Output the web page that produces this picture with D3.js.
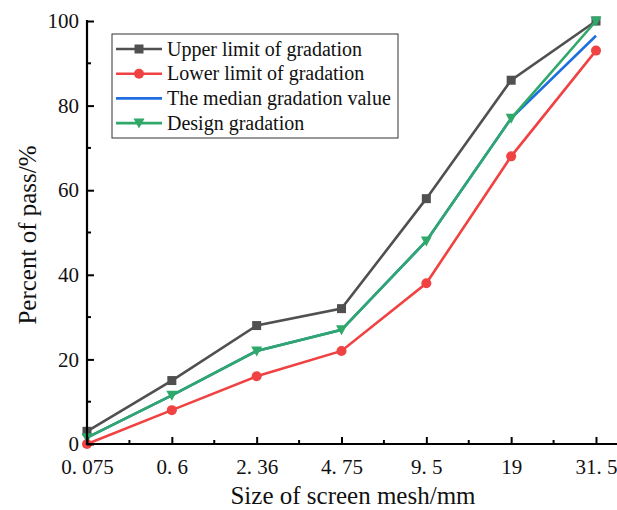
<!DOCTYPE html>
<html>
<head>
<meta charset="utf-8">
<script src="https://cdn.jsdelivr.net/npm/d3@7"></script>
<style>
  body { margin: 0; background: #fff; }
  text { font-family: "Liberation Serif", "Times New Roman", serif; fill: #111; }
</style>
</head>
<body>
<svg id="chart"></svg>
<script>
// sieve sizes (x categories) and their tick text
const sizes = ["0.075", "0.6", "2.36", "4.75", "9.5", "19", "31.5"];
const tickLabels = ["0. 075", "0. 6", "2. 36", "4. 75", "9. 5", "19", "31. 5"];
const yTicks = [0, 20, 40, 60, 80, 100];

// percent passing
const upper = [3, 15, 28, 32, 58, 86, 100];
const lower = [0, 8, 16, 22, 38, 68, 93];
const median = [1.5, 11.5, 22, 27, 48, 77, 96.5];
const design = [1.5, 11.5, 22, 27, 48, 77, 100];

const seriesNames = ["Upper limit of gradation", "Lower limit of gradation", "The median gradation value", "Design gradation"];
const seriesColors = ["#505050", "#f04242", "#1f6fe0", "#2fa86a"];
const seriesMarkers = ["square", "circle", "none", "triangle"];

const width = 617, height = 510;
const svg = d3.select("#chart").attr("width", width).attr("height", height);

const xScale = d3.scalePoint().domain(sizes).range([87, 596]);
const yScale = d3.scaleLinear().domain([0, 100]).range([444, 21]);

// series drawn in order, design last so it sits on top
const series = [upper, lower, median, design].map((vals, i) => ({
    name: seriesNames[i],
    color: seriesColors[i],
    marker: seriesMarkers[i],
    points: sizes.map((s, j) => ({ x: s, y: vals[j] }))
}));

const line = d3.line().x(d => xScale(d.x)).y(d => yScale(d.y));

function drawMarker(g, type, color) {
    if (type === "square") {
        g.append("rect").attr("x", -4.5).attr("y", -4.5).attr("width", 9).attr("height", 9).attr("fill", color);
    } else if (type === "circle") {
        g.append("circle").attr("r", 5).attr("fill", color);
    } else if (type === "triangle") {
        g.append("path").attr("d", "M-5.5,-4.5L5.5,-4.5L0,5.5Z").attr("fill", color);
    }
}

const plot = svg.append("g");
series.forEach(s => {
    plot.append("path")
        .datum(s.points)
        .attr("d", line)
        .attr("fill", "none")
        .attr("stroke", s.color)
        .attr("stroke-width", 2.6);
    s.points.forEach(p => {
        const g = plot.append("g").attr("transform", "translate(" + xScale(p.x) + "," + yScale(p.y) + ")");
        drawMarker(g, s.marker, s.color);
    });
});

// x axis: major ticks inward, minor ticks halfway between
const xAxis = svg.append("g")
    .attr("transform", "translate(0,444)")
    .call(d3.axisBottom(xScale).tickSizeInner(-7).tickSizeOuter(0).tickPadding(15)
        .tickFormat((d, i) => tickLabels[i]));
xAxis.select(".domain").remove();
xAxis.selectAll(".tick line").attr("stroke", "#000").attr("stroke-width", 2);
xAxis.selectAll(".tick text").attr("font-size", 21).attr("fill", "#111")
    .attr("font-family", "'Liberation Serif', serif");

const step = xScale.step();
const xMinor = sizes.slice(0, -1).map(s => xScale(s) + step / 2);
svg.append("g").selectAll("line").data(xMinor).enter().append("line")
    .attr("x1", d => d).attr("x2", d => d)
    .attr("y1", 444).attr("y2", 440)
    .attr("stroke", "#000").attr("stroke-width", 2);

svg.append("line")
    .attr("x1", 86).attr("x2", 617).attr("y1", 444).attr("y2", 444)
    .attr("stroke", "#000").attr("stroke-width", 2.2);

// y axis
const yAxis = svg.append("g")
    .attr("transform", "translate(87,0)")
    .call(d3.axisLeft(yScale).tickValues(yTicks).tickSizeInner(-7).tickSizeOuter(0).tickPadding(8));
yAxis.select(".domain").remove();
yAxis.selectAll(".tick line").attr("stroke", "#000").attr("stroke-width", 2);
yAxis.selectAll(".tick text").attr("font-size", 21).attr("fill", "#111")
    .attr("font-family", "'Liberation Serif', serif");

const yMinor = d3.range(10, 100, 20);
svg.append("g").selectAll("line").data(yMinor).enter().append("line")
    .attr("x1", 87).attr("x2", 91)
    .attr("y1", d => yScale(d)).attr("y2", d => yScale(d))
    .attr("stroke", "#000").attr("stroke-width", 2);

svg.append("line")
    .attr("x1", 87).attr("x2", 87).attr("y1", 20).attr("y2", 445)
    .attr("stroke", "#000").attr("stroke-width", 2.2);

// axis titles
svg.append("text")
    .attr("x", 353).attr("y", 504)
    .attr("text-anchor", "middle").attr("font-size", 25)
    .text("Size of screen mesh/mm");

svg.append("text")
    .attr("transform", "translate(36,235) rotate(-90)")
    .attr("text-anchor", "middle").attr("font-size", 25)
    .text("Percent of pass/%");

// legend
const legend = svg.append("g").attr("transform", "translate(112,34)");
legend.append("rect")
    .attr("x", 0).attr("y", 0).attr("width", 286).attr("height", 104)
    .attr("fill", "#fff").attr("stroke", "#333").attr("stroke-width", 1);

const rows = legend.selectAll(".row").data(series).enter().append("g")
    .attr("transform", (d, i) => "translate(0," + (15 + i * 24.7) + ")");
rows.append("line")
    .attr("x1", 4).attr("x2", 50).attr("y1", 0).attr("y2", 0)
    .attr("stroke", d => d.color).attr("stroke-width", 2.6);
rows.each(function (d) {
    const g = d3.select(this).append("g").attr("transform", "translate(27,0)");
    drawMarker(g, d.marker, d.color);
});
rows.append("text")
    .attr("x", 55).attr("y", 6.5)
    .attr("font-size", 20)
    .text(d => d.name);
</script>
</body>
</html>
